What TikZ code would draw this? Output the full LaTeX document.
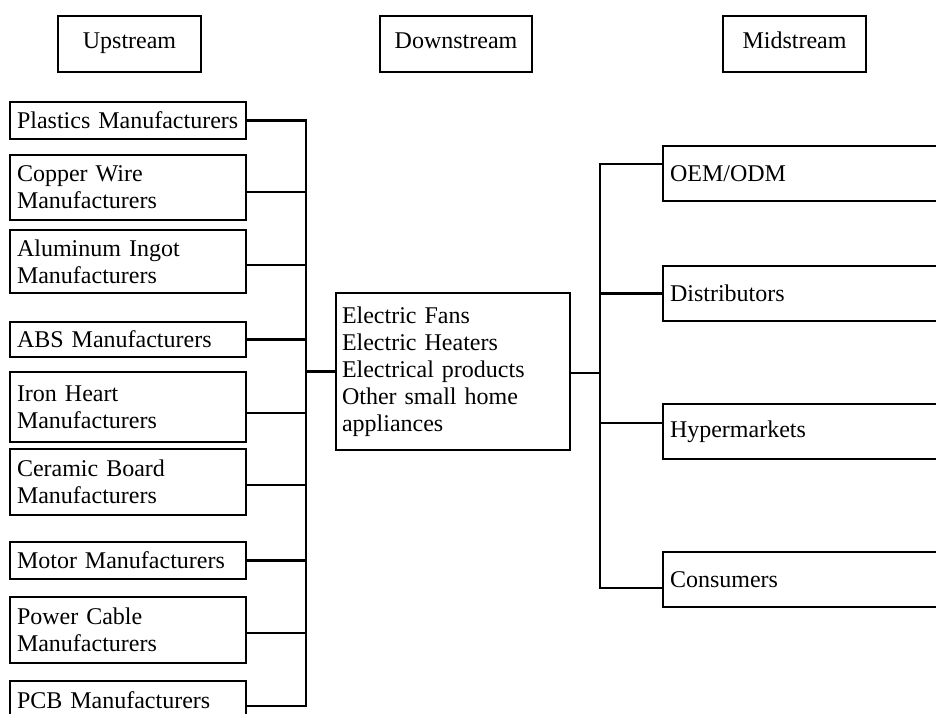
\documentclass[tikz,border=0pt]{standalone}
\usepackage{fontspec}
\setmainfont{Liberation Serif}
\begin{document}
\begin{tikzpicture}[x=1pt,y=-1pt,
  every node/.style={font=\fontsize{24}{27}\selectfont},
  hbox/.style={draw, line width=2.2pt, inner sep=0pt, align=center, text height=16pt, text depth=7pt},
  lbox/.style={draw, line width=2.2pt, inner xsep=7pt, inner ysep=0pt, text width=222pt, align=left},
  rbox/.style={draw, line width=2.2pt, inner xsep=7pt, inner ysep=0pt, text width=323pt, align=left},
  link/.style={line width=2.2pt}]
\useasboundingbox (0,0) rectangle (936,713);
\clip (0,0) rectangle (936,713);
% headers
\node[hbox, minimum width=143pt, minimum height=56pt] (up) at (129.5,44) {Upstream};
\node[hbox, minimum width=152pt, minimum height=56pt] (down) at (456,44) {Downstream};
\node[hbox, minimum width=143pt, minimum height=56pt] (mid) at (794.5,44) {Midstream};
% left boxes
\node[lbox, minimum height=37pt] (pl) at (128,120.5) {Plastics Manufacturers};
\node[lbox, minimum height=65pt] (cu) at (128,187.5) {Copper Wire\\Manufacturers};
\node[lbox, minimum height=63pt] (al) at (128,261.5) {Aluminum Ingot\\Manufacturers};
\node[lbox, minimum height=35pt] (abs) at (128,339.5) {ABS Manufacturers};
\node[lbox, minimum height=70pt] (fe) at (128,407) {Iron Heart\\Manufacturers};
\node[lbox, minimum height=66pt] (ce) at (128,482) {Ceramic Board\\Manufacturers};
\node[lbox, minimum height=37pt] (mo) at (128,560.5) {Motor Manufacturers};
\node[lbox, minimum height=66pt] (pc) at (128,630) {Power Cable\\Manufacturers};
\node[lbox, minimum height=38pt] (pcb) at (128,700) {PCB Manufacturers};
% center
\node[draw, line width=2.2pt, inner xsep=6pt, inner ysep=0pt, text width=222pt, align=left, minimum height=157pt] (c) at (453,371.5)
  {Electric Fans\\Electric Heaters\\Electrical products\\Other small home\\appliances};
% right boxes
\node[rbox, minimum height=55pt] (oem) at (831.5,173.5) {OEM/ODM};
\node[rbox, minimum height=55pt] (dis) at (831.5,293.5) {Distributors};
\node[rbox, minimum height=55pt] (hyp) at (831.5,431.5) {Hypermarkets};
\node[rbox, minimum height=55pt] (con) at (831.5,579.5) {Consumers};
% junctions
\coordinate (lj) at (306,371.5);
\coordinate (rj) at (600,373);
% left connectors
\draw[link] (pl.east) -| (lj);
\draw[link] ([yshift=-6pt]pcb.east) -| (lj);
\draw[link] ([yshift=-4.5pt]cu.east) -- ([yshift=-4.5pt]cu.east -| lj);
\draw[link] ([yshift=-3.5pt]al.east) -- ([yshift=-3.5pt]al.east -| lj);
\draw[link] (abs.east) -- (abs.east -| lj);
\draw[link] ([yshift=-6pt]fe.east) -- ([yshift=-6pt]fe.east -| lj);
\draw[link] ([yshift=-3pt]ce.east) -- ([yshift=-3pt]ce.east -| lj);
\draw[link] (mo.east) -- (mo.east -| lj);
\draw[link] ([yshift=-3pt]pc.east) -- ([yshift=-3pt]pc.east -| lj);
\draw[link] (lj) -- (c.west);
% right connectors
\draw[link] (c.east |- rj) -- (rj);
\draw[link] ([yshift=9.5pt]oem.west) -| (rj);
\draw[link] ([yshift=-8.5pt]con.west) -| (rj);
\draw[link] (dis.west) -- (dis.west -| rj);
\draw[link] ([yshift=8.5pt]hyp.west) -- ([yshift=8.5pt]hyp.west -| rj);
\end{tikzpicture}
\end{document}
